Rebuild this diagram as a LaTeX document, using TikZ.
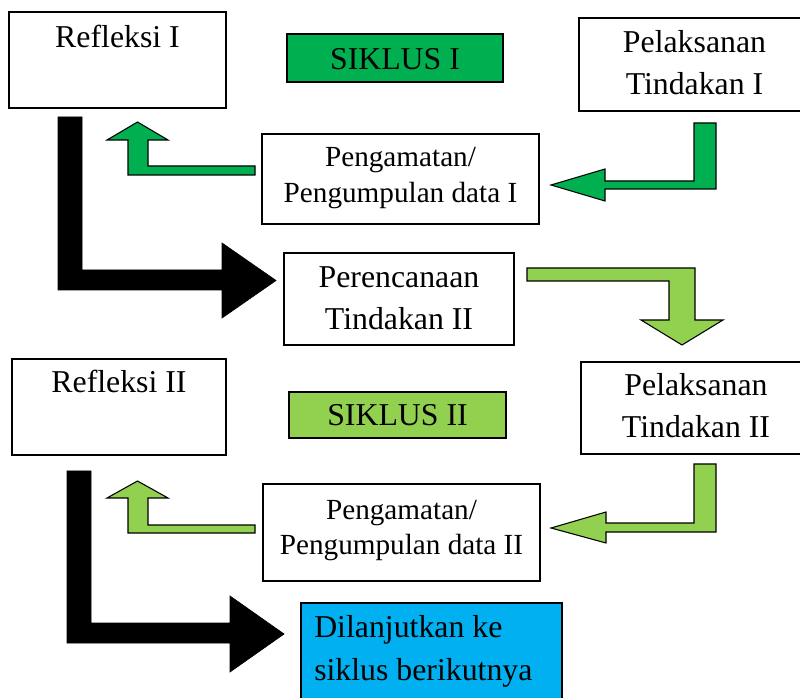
\documentclass[tikz,border=0pt]{standalone}
\usepackage{fontspec}
\setmainfont{Liberation Serif}
\definecolor{siklusone}{RGB}{0,176,80}
\definecolor{siklustwo}{RGB}{146,208,80}
\definecolor{lanjut}{RGB}{0,176,240}
\definecolor{ink}{RGB}{0,0,0}

\begin{document}
\begin{tikzpicture}[
 every node/.style={inner sep=0pt,font=\fontsize{23.85}{32}\selectfont},
 smalltext/.style={font=\fontsize{21.9}{27}\selectfont},
 box/.style={draw=ink,line width=1.1pt},
 bentone/.style={fill=siklusone,draw=ink,line width=.8pt,line join=miter},
 benttwo/.style={fill=siklustwo,draw=ink,line width=.8pt,line join=miter},
 bentblack/.style={fill=ink,draw=ink,line width=.5pt,line join=miter}]
\begin{scope}[x=.75pt,y=-.75pt]
 \useasboundingbox (0,0) rectangle (800,698);
 % siklus I
 \draw[box,fill=white] (9,12) rectangle (226,108);
 \draw[box,fill=siklusone] (287,34) rectangle (503,82);
 \draw[box,fill=white] (579,18) rectangle (812,111);
 \draw[box,fill=white] (262,134) rectangle (539,224);
 \node[anchor=base] (refleksione) at (117.5,48) {Refleksi I};
 \node[anchor=base] (siklusI) at (395,70) {SIKLUS I};
 \node[anchor=base,align=center] (pelaksananone) at (694.5,95)
  {Pelaksanan\\Tindakan I};
 \node[anchor=base,align=center,smalltext] (pengamatanone) at (400.5,203)
  {Pengamatan/\\Pengumpulan data I};
 \draw[bentone] (694,123)--(716,123)--(716,189)--(605,189)--(605,201)
  --(551,185)--(605,169)--(605,181)--(694,181)--cycle;
 \draw[bentone] (255,166)--(148,166)--(148,140)--(168,140)--(137.5,122)
  --(107,140)--(128,140)--(128,175)--(255,175)--cycle;
 \draw[bentblack] (58,117)--(82,117)--(82,270)--(222,270)--(222,243)
  --(276,280.5)--(222,318)--(222,290)--(58,290)--cycle;
 % perencanaan
 \draw[box,fill=white] (284,253) rectangle (514,345);
 \node[anchor=base,align=center] (perencanaan) at (399,330)
  {Perencanaan\\Tindakan II};
 \draw[benttwo] (527,268)--(695,268)--(695,320)--(723,320)--(682,345)
  --(641,320)--(669,320)--(669,281)--(527,281)--cycle;
 % siklus II
 \draw[box,fill=white] (12,359) rectangle (226,455);
 \draw[box,fill=siklustwo] (289,392) rectangle (506,438);
 \draw[box,fill=white] (581,362) rectangle (812,454);
 \draw[box,fill=white] (263,484) rectangle (540,581);
 \node[anchor=base] (refleksitwo) at (119,393) {Refleksi II};
 \node[anchor=base] (siklusII) at (397.5,426) {SIKLUS II};
 \node[anchor=base,align=center] (pelaksanantwo) at (696,438)
  {Pelaksanan\\Tindakan II};
 \node[anchor=base,align=center,smalltext] (pengamatantwo) at (401.5,555)
  {Pengamatan/\\Pengumpulan data II};
 \draw[benttwo] (694,464)--(716,464)--(716,532)--(606,532)--(606,543)
  --(551,528)--(606,512)--(606,523)--(694,523)--cycle;
 \draw[benttwo] (255,525)--(148,525)--(148,498)--(168,498)--(137.5,481)
  --(107,498)--(128,498)--(128,533)--(255,533)--cycle;
 \draw[bentblack] (67,471)--(91,471)--(91,623)--(230,623)--(230,596)
  --(284,634)--(230,672)--(230,643)--(67,643)--cycle;
 % lanjut
 \draw[box,fill=lanjut] (301,603) rectangle (562,712);
 \node[anchor=base west,align=left] (lanjutan) at (314,680)
  {Dilanjutkan ke\\siklus berikutnya};
\end{scope}
\end{tikzpicture}
\end{document}
